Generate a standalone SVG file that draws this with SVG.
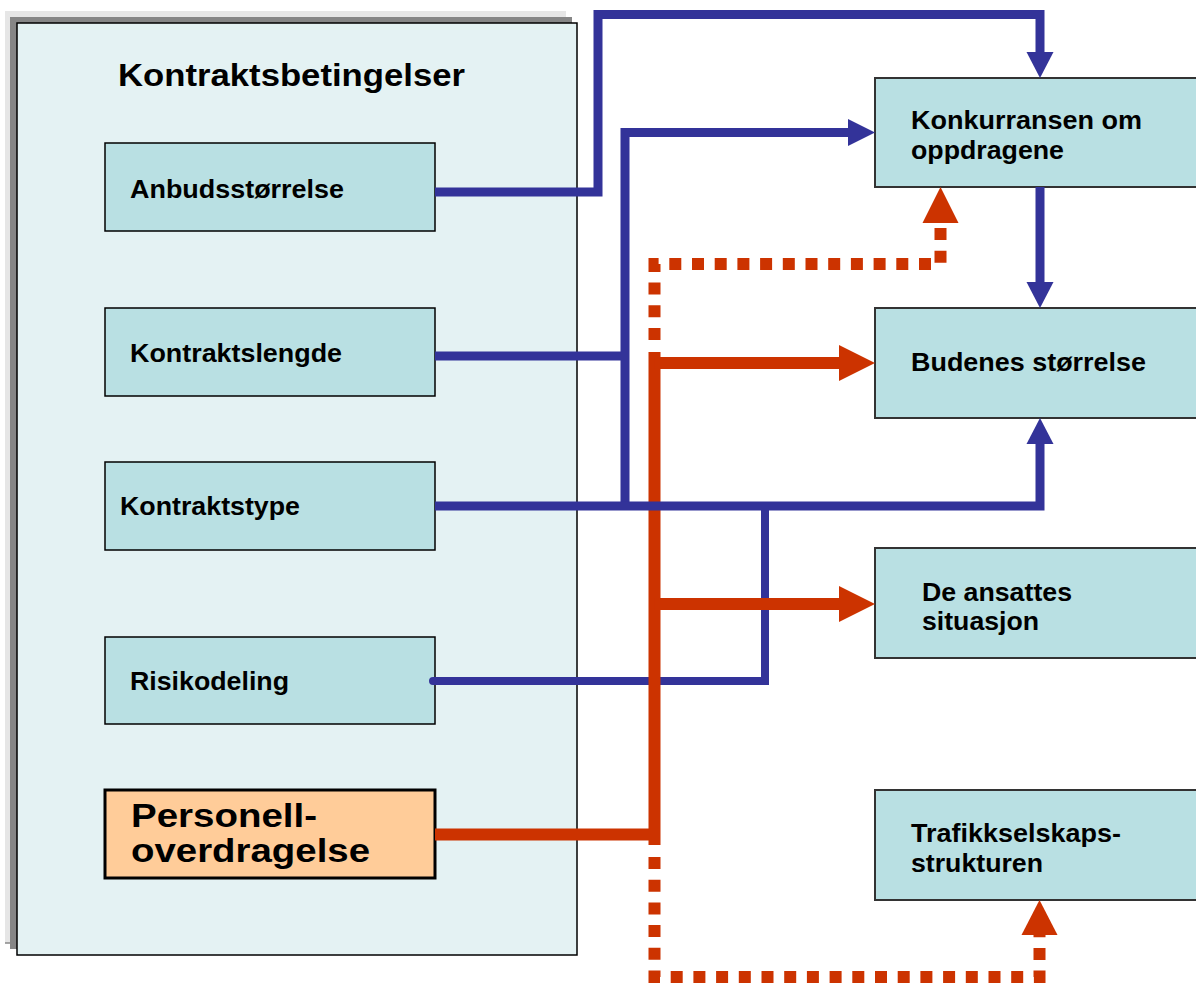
<svg xmlns="http://www.w3.org/2000/svg" width="1196" height="983" viewBox="0 0 1196 983">
<style>
.lbl{font-family:"Liberation Sans",Arial,sans-serif;font-weight:bold;fill:#000;font-size:25.5px}
.big{font-size:34px}
.ttl{font-size:31px}
.box{fill:#B9E0E3;stroke:#000;stroke-width:1.5}
.rbox{fill:#B9E0E3;stroke:#333;stroke-width:2}
.blue{fill:none;stroke:#333399;stroke-width:9}
.blue-thin{fill:none;stroke:#333399;stroke-width:8}
.red{fill:none;stroke:#CC3300;stroke-width:12}
.reddot{fill:none;stroke:#CC3300;stroke-width:12;stroke-dasharray:12 10.7}
.bah{fill:#333399}
.rah{fill:#CC3300}
</style>
<rect width="1196" height="983" fill="#fff"/>
<g id="panel">
<rect x="5" y="11" width="561" height="932" fill="#E6E6E6"/>
<line x1="5" y1="943" x2="10" y2="943" stroke="#888" stroke-width="1.5"/>
<rect x="10" y="17" width="562" height="932" fill="#868686"/>
<rect x="17" y="23" width="560" height="932" fill="#E4F2F3" stroke="#000" stroke-width="1.5"/>
<text class="lbl ttl" x="118" y="86" textLength="347" lengthAdjust="spacingAndGlyphs">Kontraktsbetingelser</text>
</g>
<g id="n-anbud"><rect class="box" x="105" y="143" width="330" height="88"/><text class="lbl" x="130" y="198" textLength="214" lengthAdjust="spacingAndGlyphs">Anbudsstørrelse</text></g>
<g id="n-lengde"><rect class="box" x="105" y="308" width="330" height="88"/><text class="lbl" x="130" y="362" textLength="212" lengthAdjust="spacingAndGlyphs">Kontraktslengde</text></g>
<g id="n-type"><rect class="box" x="105" y="462" width="330" height="88"/><text class="lbl" x="120" y="515" textLength="180" lengthAdjust="spacingAndGlyphs">Kontraktstype</text></g>
<g id="n-risiko"><rect class="box" x="105" y="637" width="330" height="87"/><text class="lbl" x="130" y="690" textLength="159" lengthAdjust="spacingAndGlyphs">Risikodeling</text></g>
<g id="n-personell"><rect x="105" y="790" width="330" height="88" fill="#FFCC99" stroke="#000" stroke-width="3"/>
<text class="lbl big" x="131" y="827" textLength="186" lengthAdjust="spacingAndGlyphs">Personell-</text>
<text class="lbl big" x="131" y="862" textLength="239" lengthAdjust="spacingAndGlyphs">overdragelse</text></g>
<g id="n-konk"><rect class="rbox" x="875" y="78" width="330" height="109"/>
<text class="lbl" x="911" y="129" textLength="231" lengthAdjust="spacingAndGlyphs">Konkurransen om</text>
<text class="lbl" x="911" y="159" textLength="153" lengthAdjust="spacingAndGlyphs">oppdragene</text></g>
<g id="n-bud"><rect class="rbox" x="875" y="308" width="330" height="110"/>
<text class="lbl" x="911" y="371" textLength="235" lengthAdjust="spacingAndGlyphs">Budenes størrelse</text></g>
<g id="n-ansatte"><rect class="rbox" x="875" y="548" width="330" height="110"/>
<text class="lbl" x="922" y="601" textLength="150" lengthAdjust="spacingAndGlyphs">De ansattes</text>
<text class="lbl" x="922" y="630" textLength="117" lengthAdjust="spacingAndGlyphs">situasjon</text></g>
<g id="n-trafikk"><rect class="rbox" x="875" y="790" width="330" height="110"/>
<text class="lbl" x="911" y="842" textLength="210" lengthAdjust="spacingAndGlyphs">Trafikkselskaps-</text>
<text class="lbl" x="911" y="872" textLength="132" lengthAdjust="spacingAndGlyphs">strukturen</text></g>
<g id="connectors">
<path class="blue" d="M435 192 H598 V14.5 H1040 V53"/>
<polygon class="bah" points="1026.5,52 1053.5,52 1040,78"/>
<path class="blue" d="M435 356 H625 M625 506 V132.5 H849"/>
<polygon class="bah" points="848,119 848,146 875,132.5"/>
<path class="blue" d="M1040 187 V283"/>
<polygon class="bah" points="1026.5,282 1053.5,282 1040,308"/>
<path class="blue-thin" stroke-linecap="round" d="M433 681 H765 V506"/>
<path class="red" d="M654.5 352 V845 M435 834.5 H660"/>
<path class="red" d="M654.5 363 H841"/>
<polygon class="rah" points="839,345 839,381 875,363"/>
<path class="red" d="M654.5 604 H841"/>
<polygon class="rah" points="839,586 839,622 875,604"/>
<path class="reddot" d="M654.5 340 V264 H940.5 V223"/>
<polygon class="rah" points="922.5,223 958.5,223 940.5,187"/>
<path class="reddot" d="M654.5 857 V977 H1039.5 V935"/>
<polygon class="rah" points="1021.5,935 1057.5,935 1039.5,900"/>
<path class="blue" d="M435 506 H1040 V443"/>
<polygon class="bah" points="1026.5,444 1053.5,444 1040,418"/>
</g>
</svg>
